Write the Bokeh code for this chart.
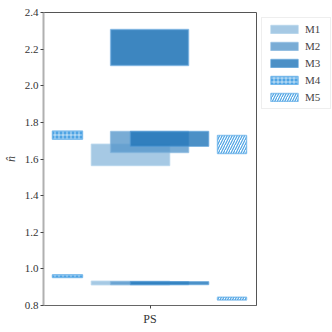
from bokeh.plotting import figure
from bokeh.models import ColumnDataSource, FactorRange, Range1d, Legend, LegendItem, NumeralTickFormatter, FixedTicker
from bokeh.transform import dodge
from bokeh.embed import file_html
from bokeh.resources import INLINE

categories = ["PS"]
methods = ["M1", "M2", "M3", "M4", "M5"]

# interval bounds (bottom, top)
m1_low = [1.565, 0.913]
m1_high = [1.680, 0.933]
m2_low = [1.635, 0.915]
m2_high = [1.750, 0.930]
m2_upper_low = [2.110]
m2_upper_high = [2.307]
m3_low = [1.670, 0.915]
m3_high = [1.750, 0.930]
m4_low = [1.708, 0.953]
m4_high = [1.753, 0.968]
m5_low = [1.630, 0.830]
m5_high = [1.728, 0.845]

FONT = "Liberation Serif"

p = figure(x_range=FactorRange(*categories, range_padding=0), y_range=Range1d(0.8, 2.4),
           frame_width=213, frame_height=293, output_backend="svg", toolbar_location=None,
           min_border_top=12, min_border_bottom=0, min_border_left=0, min_border_right=0)
p.xgrid.visible = False
p.ygrid.visible = False
p.outline_line_color = "#555555"
p.outline_line_width = 1

def box(lows, highs, off_l, off_r, fill, alpha, line, **kw):
    src = ColumnDataSource(dict(x=["PS"] * len(lows), bottom=lows, top=highs))
    return p.quad(left=dodge("x", off_l, range=p.x_range), right=dodge("x", off_r, range=p.x_range),
                  bottom="bottom", top="top", source=src, fill_color=fill, fill_alpha=alpha,
                  line_color=line, line_alpha=0.6, line_width=1.5, **kw)

r1 = box(m1_low, m1_high, -0.275, 0.092, "#90bcdd", 0.8, "#a9cde8")
r2 = box(m2_low, m2_high, -0.185, 0.181, "#5897cb", 0.8, "#7fb2dc")
box(m2_upper_low, m2_upper_high, -0.185, 0.181, "#3d86c0", 1.0, "#6aaae0")
r3 = box(m3_low, m3_high, -0.092, 0.275, "#1f74b8", 0.8, "#4f98d4")
r4 = box(m4_low, m4_high, -0.458, -0.317, "#4ea4e4", 1.0, "#4ea4e4",
         hatch_pattern="+", hatch_color="white", hatch_scale=4, hatch_weight=0.8, hatch_alpha=0.8)
r5 = box(m5_low, m5_high, 0.317, 0.453, "white", 1.0, "#4ea4e4",
         hatch_pattern="/", hatch_color="#4ea4e4", hatch_scale=5, hatch_weight=1.2)

legend = Legend(items=[LegendItem(label=m, renderers=[r]) for m, r in zip(methods, [r1, r2, r3, r4, r5])],
                location="top_left", glyph_width=34, glyph_height=10, spacing=5,
                label_text_font=FONT, label_text_font_size="11px", label_standoff=4,
                border_line_color="#dddddd", border_line_width=1, padding=5, margin=5,
                label_height=10)
p.add_layout(legend, "right")

p.yaxis.ticker = FixedTicker(ticks=[0.8, 1.0, 1.2, 1.4, 1.6, 1.8, 2.0, 2.2, 2.4])
p.yaxis.formatter = NumeralTickFormatter(format="0.0")
p.yaxis.axis_label = "n\u0302"
p.yaxis.axis_label_text_font = FONT
p.yaxis.axis_label_text_font_style = "italic"
p.yaxis.axis_label_text_font_size = "12px"
p.yaxis.axis_label_standoff = 4
p.yaxis.axis_line_color = "#b0b0b0"
p.yaxis.axis_line_width = 2
p.yaxis.major_tick_line_color = "#444444"
p.yaxis.minor_tick_line_color = None
p.yaxis.major_tick_out = 3
p.yaxis.major_tick_in = 0
p.yaxis.major_label_text_font = FONT
p.yaxis.major_label_text_font_size = "11px"
p.yaxis.major_label_text_color = "#333333"
p.yaxis.major_label_standoff = 2

p.xaxis.axis_line_color = "#666666"
p.xaxis.major_tick_line_color = "#444444"
p.xaxis.major_tick_out = 3
p.xaxis.major_tick_in = 0
p.xaxis.major_label_text_font = FONT
p.xaxis.major_label_text_font_size = "12px"
p.xaxis.major_label_text_color = "#333333"
p.xaxis.major_label_standoff = 3

open("out.html", "w").write(file_html(p, INLINE))
